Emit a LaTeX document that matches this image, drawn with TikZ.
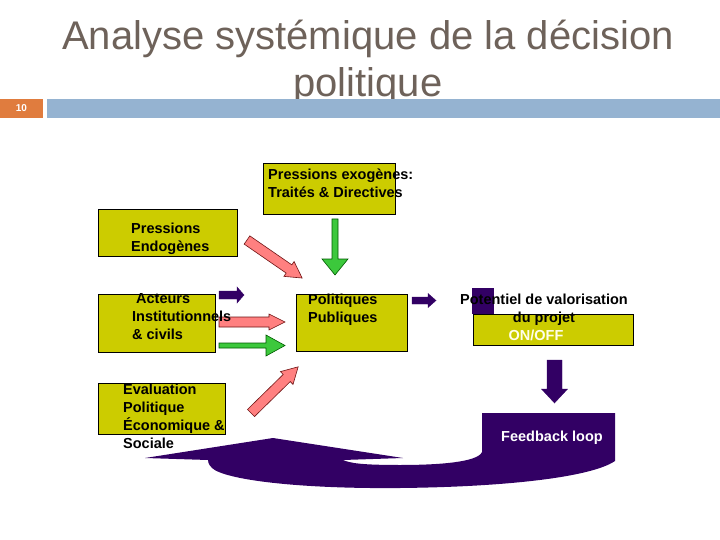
\documentclass[tikz,border=0pt]{standalone}
\usepackage{fontspec}
\setmainfont{Liberation Sans}

\definecolor{boxyellow}{RGB}{204,204,0}
\definecolor{arrowpink}{RGB}{255,128,128}
\definecolor{pinkedge}{RGB}{110,20,20}
\definecolor{arrowgreen}{RGB}{60,200,60}
\definecolor{greenedge}{RGB}{0,90,0}
\definecolor{loopviolet}{RGB}{50,0,100}
\definecolor{titlegray}{RGB}{110,98,90}
\definecolor{barblue}{RGB}{149,179,209}
\definecolor{numorange}{RGB}{224,124,62}

\begin{document}
\begin{tikzpicture}[
    x=1pt,y=-1pt,
    ybox/.style={draw=black,line width=0.8pt,fill=boxyellow,
        inner sep=0pt,outer sep=0pt,anchor=north west},
    label text/.style={font=\fontsize{14.5}{18}\selectfont\bfseries,
        inner sep=0pt,anchor=north west,align=left},
    title text/.style={font=\fontsize{40}{47}\selectfont,text=titlegray,
        inner sep=0pt,anchor=base},
    pinkarrow/.style={fill=arrowpink,draw=pinkedge,line width=0.6pt},
    greenarrow/.style={fill=arrowgreen,draw=greenedge,line width=0.6pt},
    violetarrow/.style={fill=loopviolet,draw=loopviolet,line width=0.4pt},
    pics/blockarrow/.style args={#1/#2/#3/#4}{code={
        \filldraw (0,-#2) -- (#1-#4,-#2) -- (#1-#4,-#3) -- (#1,0)
            -- (#1-#4,#3) -- (#1-#4,#2) -- (0,#2) -- cycle;
    }},
]
    \useasboundingbox (0,0) rectangle (720,540);

    % header
    \node[title text] (title1) at (368,50) {Analyse systémique de la décision};
    \node[title text] (title2) at (368,97) {politique};
    \fill[numorange] (0,99) rectangle (43,118);
    \fill[barblue] (47,99) rectangle (720,118);
    \node[text=white,font=\fontsize{10}{12}\selectfont\bfseries] (num) at (21.5,108.5) {10};

    % boxes
    \node[ybox,minimum width=132pt,minimum height=51pt] (exo) at (263,163) {};
    \node[ybox,minimum width=139pt,minimum height=47pt] (endo) at (98,209) {};
    \node[ybox,minimum width=117pt,minimum height=58pt] (acteurs) at (98,294) {};
    \node[ybox,minimum width=111pt,minimum height=57pt] (politiques) at (296,294) {};
    \fill[loopviolet] (472,288) rectangle (494,314);
    \node[ybox,minimum width=160pt,minimum height=31pt] (potentiel) at (473,314) {};
    \node[ybox,minimum width=127pt,minimum height=51pt] (evaluation) at (98,383) {};

    % block arrows
    \pic[greenarrow,rotate=-90] at (335,219) {blockarrow=56/3/13/16};
    \pic[pinkarrow,rotate=-34.6] at (247,240) {blockarrow=67/5/9/16};
    \pic[violetarrow] at (219,295) {blockarrow=25/4/8/7};
    \pic[pinkarrow] at (219,322) {blockarrow=66/5/8/16};
    \pic[greenarrow] at (219,345.5) {blockarrow=66/2.5/10.5/19};
    \pic[pinkarrow,rotate=44.4] at (251,413) {blockarrow=66/5/9/16};
    \pic[violetarrow] at (412,300.5) {blockarrow=24/3.5/7/8};
    \pic[violetarrow,rotate=-90] at (554.5,360) {blockarrow=43/7.5/13/14};

    % feedback loop
    \fill[loopviolet]
        (145,458) -- (273,438) -- (403,458) -- (343,460)
        .. controls (350,463) and (360,465) .. (400,465)
        .. controls (440,465) and (478,462) .. (482,452)
        -- (482,413) -- (615,413) -- (615,461)
        .. controls (590,478) and (500,487) .. (400,488)
        .. controls (300,489) and (225,480) .. (212,468)
        .. controls (208,464) and (208,461) .. (208,460)
        -- cycle;

    % texts
    \node[label text] (exo-t) at (268,168.5) {Pressions exogènes:\\Traités \& Directives};
    \node[label text] (endo-t) at (131,222.5) {Pressions\\Endogènes};
    \node[label text] (acteurs-t) at (132,293.5) {\hspace{4pt}Acteurs\\Institutionnels\\\& civils};
    \node[label text] (politiques-t) at (308,293.5) {Politiques\\Publiques};
    \node[label text,anchor=north,align=center] (potentiel-t) at (544,293.5)
        {Potentiel de valorisation\\du projet\hspace{14pt}\\\textcolor{white!92!yellow}{ON/OFF\hspace{16pt}}};
    \node[label text] (evaluation-t) at (123,383.5) {Evaluation\\Politique\\Économique \&\\Sociale};
    \node[label text,anchor=base,text=white] (loop-t) at (552,441) {Feedback loop};
\end{tikzpicture}
\end{document}
